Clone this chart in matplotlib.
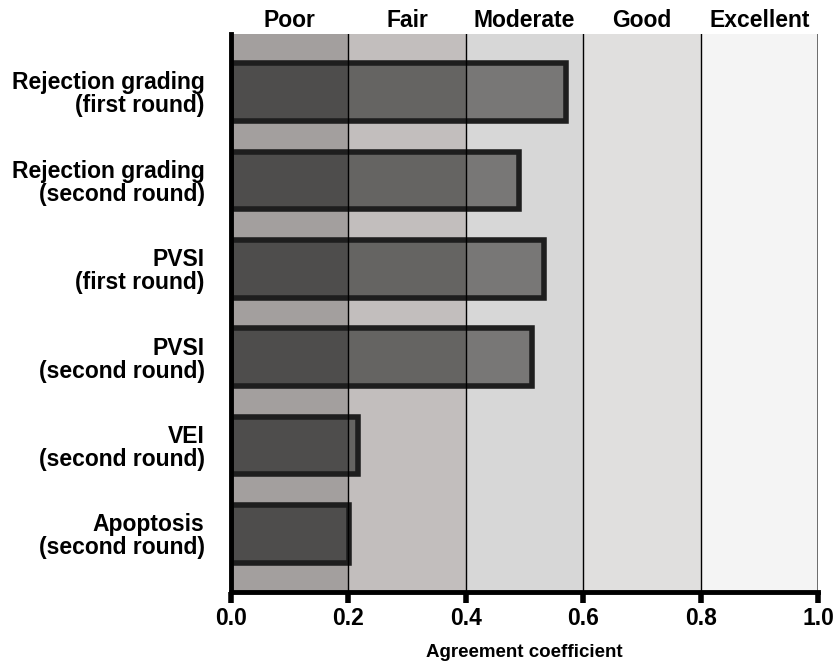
import matplotlib.pyplot as plt

plt.rcParams['font.family'] = ['Liberation Sans', 'DejaVu Sans']
plt.rcParams['font.weight'] = 'bold'

# datos
categorias = ["Rejection grading\n(first round)", "Rejection grading\n(second round)",
              "PVSI\n(first round)", "PVSI\n(second round)",
              "VEI\n(second round)", "Apoptosis\n(second round)"]
valores = [0.570, 0.490, 0.533, 0.512, 0.216, 0.201]

bandas = ["Poor", "Fair", "Moderate", "Good", "Excellent"]
limites = [0.0, 0.2, 0.4, 0.6, 0.8, 1.0]
color_banda = ["#a39f9e", "#c2bebd", "#d7d7d7", "#e0dfde", "#f4f4f4"]
color_barra = ["#4e4d4c", "#656462", "#787776", "#888888", "#999999"]

fig = plt.figure(figsize=(8.34, 6.61), dpi=100)
ax = fig.add_axes([0.277, 0.1044, 0.704, 0.8442])

# fondo por bandas
for i in range(len(bandas)):
    ax.axvspan(limites[i], limites[i + 1], color=color_banda[i], zorder=0, lw=0)
    ax.text((limites[i] + limites[i + 1]) / 2, 1.004, bandas[i], transform=ax.get_xaxis_transform(),
            ha='center', va='bottom', fontsize=16.5, fontweight='bold')

y = list(range(len(categorias)))
alto = 0.65

# relleno de cada barra, por tramo de banda
for i in range(len(bandas)):
    izq = limites[i]
    anchos = [max(0, min(v, limites[i + 1]) - izq) for v in valores]
    ax.barh(y, anchos, left=izq, height=alto, color=color_barra[i], lw=0, zorder=2)

# borde de la barra
ax.barh(y, valores, height=alto, fill=False, edgecolor="#1e1e1e", lw=4, zorder=3)

for x in limites[1:-1]:
    ax.axvline(x, color='black', lw=1, zorder=4)
ax.axvline(1.0, color='#555555', lw=1.2, zorder=4)

ax.set_xlim(0, 1.0)
ax.set_ylim(len(categorias) - 0.344, -0.656)
ax.set_yticks(y)
ax.set_yticklabels(categorias, fontsize=16.5, fontweight='bold', ha='right', linespacing=1.0)
ax.tick_params(axis='y', length=0, pad=19)
ax.set_xticks(limites)
ax.set_xticklabels([f"{v:.1f}" for v in limites], fontsize=16.5, fontweight='bold')
ax.tick_params(axis='x', length=8, width=4, pad=3)
ax.set_xlabel("Agreement coefficient", fontsize=13.5, fontweight='bold', labelpad=10)

for lado in ['top', 'right']:
    ax.spines[lado].set_visible(False)
ax.spines['left'].set_linewidth(3.5)
ax.spines['bottom'].set_linewidth(3.5)
ax.spines['left'].set_zorder(5)
ax.spines['bottom'].set_zorder(5)

fig.savefig("out.png", dpi=100)
